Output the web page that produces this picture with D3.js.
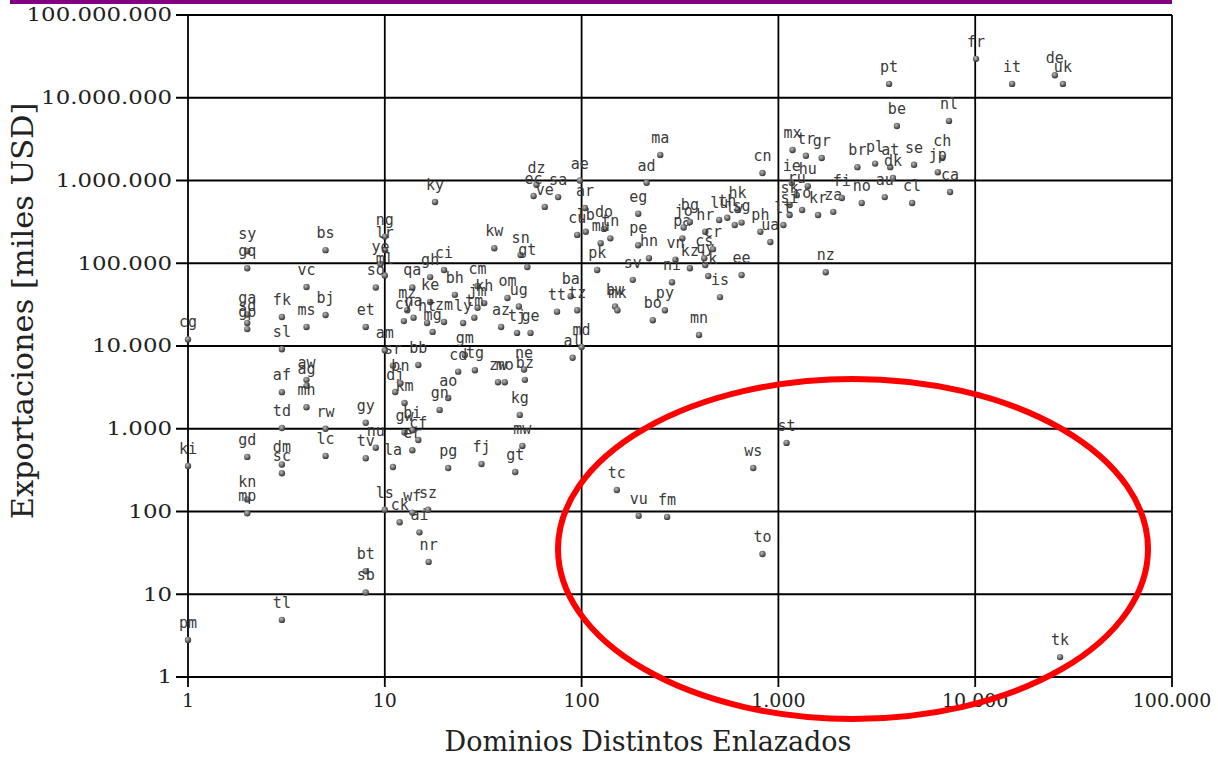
<!DOCTYPE html>
<html>
<head>
<meta charset="utf-8">
<script src="https://cdn.jsdelivr.net/npm/d3@7"></script>
<style>
  body { margin: 0; background: #fff; }
  svg { display: block; }
</style>
</head>
<body>
<div class="canvas"></div>
<script>
// country codes, distinct linked domains, exports (miles USD)
const codes = ['cg','ki','pm','sy','gq','ga','sd','gp','gd','kn','mp',
  'fk','sl','af','td','dm','sc','tl','vc','bj','ms','aw','ag','mh','rw','lc','bs',
  'et','gy','tv','nu','bt','sb','ng','lr','ye','ml','so','am','sr','bb',
  'ls','ck','ai','wf','sz','nr','dj','km','bi','cf','gw','bn','ao','gn','la','er',
  'pg','fj','gt','mw','kg','ne','zw','mo','bz','gm','cd','tg',
  'ky','ci','gh','qa','bh','cm','om','ug','kh','jm','az','tj','ge','mz','ke','zm','cy','na',
  'ht','mg','ly','tm','kw','sn','gt','dz','ve','sa','ae','ar','ec',
  'lb','do','cu','mu','tn','pk','sv','hn','pe','pa','jo','hr','lu','bg','lv',
  'kz','uy','vn','cr','lk','is','ee','hk','th','sg','ph','cs',
  'bw','mk','bo','py','ni','mn','ba','tt','tz','md','al',
  'ma','ad','eg','cn','mx','tr','gr','ie','hu','ru','sk','ro','si','lt','ua','nz',
  'kr','za','fi','no','au','cl','br','pl','at','dk','se','ch','jp','ca',
  'be','nl','pt','fr','it','de','uk',
  'tc','vu','fm','ws','st','to','tk'];

const dominios = [1,1,1,2,2,2,2,2,2,2,2,
  3,3,3,3,3,3,3,4,5,4,4,4,4,5,5,5,
  8,8,8,9,8,8,10,10,9.5,10,9,10,11,14.8,
  10,11.9,15,13.8,16.6,16.7,11.3,12.6,13.8,14.8,12.6,12,21,19,11,13.8,
  21,31,46,50,48.5,51,37.6,40.7,51.5,25.5,23.6,28.7,
  18,20,17,13.8,22.7,29.6,42,48,32,29.6,39,47,55,13,17,20,12.5,14,
  16.4,17.5,25,28.5,36,49,53,59,65,76,98,104,57,
  105,130,95,125,140,120,182,220,194,325,330,425,500,355,600,
  355,425,300,465,440,505,650,620,550,650,810,420,
  148,152,230,265,288,395,88,75,95,100,90,
  251,214,194,830,1180,1380,1660,1170,1410,1240,1140,1320,1140,1060,910,1740,
  1590,1900,2100,2650,3470,4780,2520,3100,3700,3820,4890,6800,6460,7450,
  4000,7360,3650,10100,15400,25400,27900,
  151,195,272,745,1100,830,27000];

const exportaciones = [12000,355,2.8,140000,87000,24000,19000,16000,457,140,95,
  22400,9150,2770,1020,370,290,4.9,51600,23700,17000,3900,3300,1820,1000,470,144000,
  17000,1180,440,590,19,10.5,210000,145000,98000,71000,51000,8900,5800,5900,
  105,74,56,97,105,24.6,2780,2050,960,730,900,3550,2350,1690,345,550,
  335,375,300,620,1470,5200,3650,3650,3900,7800,4900,5100,
  550000,83000,68000,51000,41500,53000,38000,30000,33000,29000,17000,14400,14400,27000,34000,19500,20000,22000,
  19000,14800,19000,22000,152000,126000,90000,890000,480000,630000,1000000,465000,650000,
  240000,260000,220000,175000,200000,83000,63000,115000,165000,200000,270000,240000,333000,315000,290000,
  87000,95000,110000,148000,70000,39000,72000,440000,355000,310000,240000,115000,
  30000,27000,20500,27000,59000,13600,40000,26000,27000,9700,7200,
  2040000,940000,397000,1230000,2340000,1990000,1870000,930000,855000,665000,505000,440000,383000,290000,181000,78000,
  383000,418000,615000,535000,630000,535000,1450000,1600000,1450000,1070000,1550000,1870000,1260000,725000,
  4550000,5250000,14700000,29500000,14700000,18700000,14700000,
  182,89,86,335,675,30.6,1.74];

const xTicks = [1, 10, 100, 1000, 10000, 100000];
const yTicks = [1, 10, 100, 1000, 10000, 100000, 1000000, 10000000, 100000000];

const W = 1218, H = 757;
const mLeft = 188, mRight = 1172, mTop = 15, mBottom = 677;

const svg = d3.select('.canvas')
  .append('svg')
    .attr('width', W)
    .attr('height', H);

// purple band at top
svg.append('rect')
  .attr('x', 10).attr('y', 0)
  .attr('width', mRight - 10).attr('height', 4)
  .attr('fill', '#800080');

const x = d3.scaleLog().domain([1, 100000]).range([mLeft, mRight]);
const y = d3.scaleLog().domain([1, 100000000]).range([mBottom, mTop]);

const es = d3.formatLocale({decimal: ',', thousands: '.', grouping: [3], currency: ['', '']});
const fmt = es.format(',');

// widen serif text like the original renderer
function stretch(sel, k) {
  sel.each(function() {
    const w = this.getComputedTextLength();
    d3.select(this)
      .attr('textLength', w * k)
      .attr('lengthAdjust', 'spacingAndGlyphs');
  });
}

// grid + ticks
const grid = svg.append('g');
grid.selectAll('.hl')
  .data(yTicks)
  .enter()
  .append('line')
    .attr('x1', mLeft - 12).attr('x2', mRight)
    .attr('y1', d => y(d)).attr('y2', d => y(d))
    .attr('stroke', '#000').attr('stroke-width', 1.8);

grid.selectAll('.vl')
  .data(xTicks)
  .enter()
  .append('line')
    .attr('x1', d => x(d)).attr('x2', d => x(d))
    .attr('y1', mTop).attr('y2', mBottom + 10)
    .attr('stroke', '#000').attr('stroke-width', 1.8);

svg.selectAll('.yt')
  .data(yTicks)
  .enter()
  .append('text')
    .attr('x', mLeft - 16)
    .attr('y', d => y(d))
    .attr('dy', '0.36em')
    .attr('text-anchor', 'end')
    .attr('font-family', 'DejaVu Serif')
    .attr('font-size', '18px')
    .attr('fill', '#222')
    .text(d => fmt(d))
    .call(stretch, 1.27);

svg.selectAll('.xt')
  .data(xTicks)
  .enter()
  .append('text')
    .attr('x', d => x(d))
    .attr('y', mBottom + 30)
    .attr('text-anchor', 'middle')
    .attr('font-family', 'DejaVu Serif')
    .attr('font-size', '19px')
    .attr('fill', '#222')
    .text(d => fmt(d));

// axis titles
svg.append('text')
  .attr('x', 648).attr('y', 751)
  .attr('text-anchor', 'middle')
  .attr('font-family', 'DejaVu Serif')
  .attr('font-size', '27px')
  .attr('fill', '#222')
  .text('Dominios Distintos Enlazados');

svg.append('text')
  .attr('transform', 'translate(33,311) rotate(-90)')
  .attr('text-anchor', 'middle')
  .attr('font-family', 'DejaVu Serif')
  .attr('font-size', '29px')
  .attr('fill', '#222')
  .text('Exportaciones [miles USD]')
  .call(stretch, 1.05);

// dot gradient
const defs = svg.append('defs');
const grad = defs.append('radialGradient').attr('id', 'ball')
  .attr('cx', '40%').attr('cy', '35%').attr('r', '65%');
grad.append('stop').attr('offset', '0%').attr('stop-color', '#bbb');
grad.append('stop').attr('offset', '100%').attr('stop-color', '#333');

const data = codes.map((c, i) => ({code: c, dom: dominios[i], exp: exportaciones[i]}))
  .filter(d => d.dom && d.exp);

const pts = svg.selectAll('g.pt')
  .data(data)
  .enter()
  .append('g')
    .attr('class', 'pt')
    .attr('transform', d => `translate(${x(d.dom)},${y(d.exp)})`);

pts.append('circle')
  .attr('r', 3.2)
  .attr('fill', 'url(#ball)');

pts.append('text')
  .attr('y', -12)
  .attr('text-anchor', 'middle')
  .attr('font-family', 'DejaVu Sans Mono')
  .attr('font-size', '15px')
  .attr('fill', '#3a3a3a')
  .text(d => d.code);

// red ellipse highlight
svg.append('ellipse')
  .attr('cx', 853).attr('cy', 549)
  .attr('rx', 295).attr('ry', 170)
  .attr('fill', 'none')
  .attr('stroke', '#f00')
  .attr('stroke-width', 6);
</script>
</body>
</html>
